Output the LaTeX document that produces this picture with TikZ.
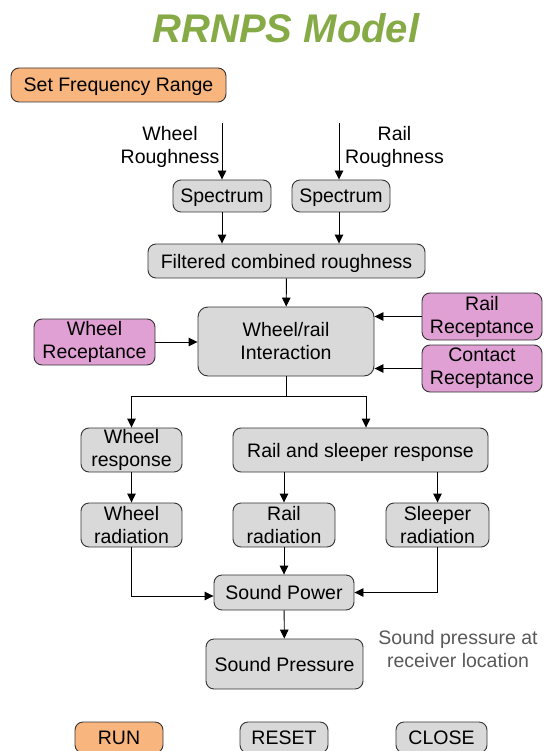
\documentclass[tikz,border=0pt]{standalone}
\usepackage{fontspec}
\setmainfont{Liberation Sans}
\usetikzlibrary{arrows.meta}
\definecolor{titlegreen}{RGB}{134,170,70}
\definecolor{boxgray}{RGB}{217,217,217}
\definecolor{btnorange}{RGB}{248,181,125}
\definecolor{recpink}{RGB}{224,160,212}
\definecolor{notegray}{RGB}{89,89,89}
\begin{document}
\begin{tikzpicture}[x=1pt,y=-1pt,font=\fontsize{19.5}{23}\selectfont,line width=.9pt,
  >={Triangle[length=9pt,width=8.5pt]},
  blk/.style={draw=black!80,fill=boxgray,rounded corners=8pt,align=center,inner sep=0pt},
  oneline/.style={text height=14pt,text depth=0pt},
  rec/.style={blk,fill=recpink},
  btn/.style={blk,oneline,fill=btnorange}]
\clip(0,0)rectangle(547,751);
\node[font=\fontsize{40}{44}\selectfont\bfseries\itshape,text=titlegreen](title)at(286,28){RRNPS Model};
\node[btn,minimum width=215,minimum height=34](freq)at(118.5,85){Set Frequency Range};
\node[align=center](wrough)at(170,146.5){Wheel\\Roughness};\node[align=center](rrough)at(394.5,146.5){Rail\\Roughness};
\coordinate(wtop)at(222,123);\coordinate(rtop)at(339,123);
\node[blk,oneline,minimum width=98,minimum height=32](spec1)at(222,196){Spectrum};
\node[blk,oneline,minimum width=98,minimum height=32](spec2)at(341,196){Spectrum};
\node[blk,oneline,minimum width=277,minimum height=34](filt)at(286.5,261){Filtered combined roughness};
\node[blk,minimum width=176,minimum height=69,rounded corners=10pt](inter)at(286,341.5){Wheel/rail\\Interaction};
\node[rec,minimum width=121,minimum height=46](wrec)at(94.5,342){Wheel\\Receptance};
\node[rec,minimum width=120,minimum height=47](rrec)at(482,316.5){Rail\\Receptance};
\node[rec,minimum width=120,minimum height=47](crec)at(482,368.5){Contact\\Receptance};
\coordinate(split)at(286,396);
\node[blk,minimum width=101,minimum height=44](wresp)at(131.5,450){Wheel\\response};
\node[blk,oneline,minimum width=255,minimum height=44](rsresp)at(360.5,450){Rail and sleeper response};
\node[blk,minimum width=101,minimum height=44](wrad)at(131.5,525){Wheel\\radiation};
\node[blk,minimum width=102,minimum height=44](rrad)at(284,525){Rail\\radiation};
\node[blk,minimum width=103,minimum height=44](srad)at(437.5,525){Sleeper\\radiation};
\node[blk,oneline,minimum width=140,minimum height=35](spow)at(284,592.5){Sound Power};
\node[blk,oneline,minimum width=157,minimum height=50](spres)at(284.5,664){Sound Pressure};
\node[align=center,text=notegray](note)at(458,649.5){Sound pressure at\\receiver location};
\node[btn,minimum width=88,minimum height=31](run)at(119,737.5){RUN};
\node[blk,oneline,minimum width=88,minimum height=31](reset)at(284,737.5){RESET};
\node[blk,oneline,minimum width=91,minimum height=31](close)at(441.5,737.5){CLOSE};
% connectors
\draw[->](wtop)--(wtop|-spec1.north);\draw[->](rtop)--(rtop|-spec2.north);
\draw[->](wtop|-spec1.south)--(wtop|-filt.north);\draw[->](rtop|-spec2.south)--(rtop|-filt.north);
\draw[->](filt)--(inter);
\draw[->](wrec)--(wrec-|inter.west);
\draw[->](rrec.west)--(rrec.west-|inter.east);\draw[->](crec.west)--(crec.west-|inter.east);
\draw(inter)--(split);\draw[->](split)-|(wresp);\draw[->](split)-|([xshift=5.5pt]rsresp.north);
\draw[->](wresp)--(wrad);
\draw[->](rrad|-rsresp.south)--(rrad);\draw[->](srad|-rsresp.south)--(srad);
\draw[->](wrad)|-([yshift=-3.5pt]spow.west);\draw[->](srad)|-(spow.east);
\draw[->](rrad)--(spow);
\draw[->](spow)--(spres);
\end{tikzpicture}
\end{document}
